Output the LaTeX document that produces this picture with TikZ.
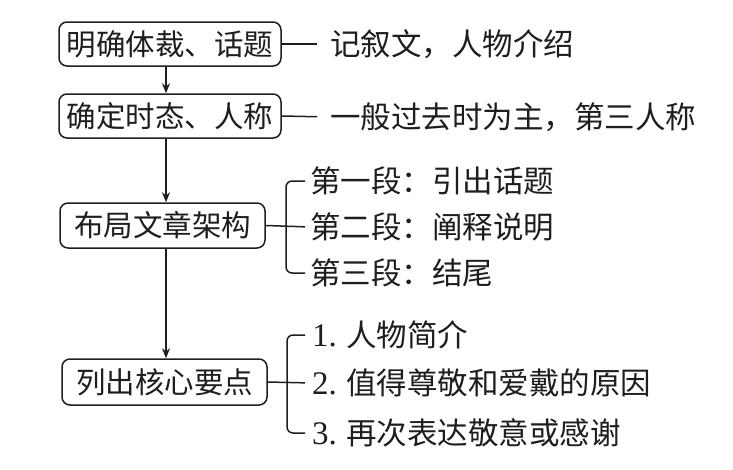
\documentclass[tikz,border=0pt]{standalone}
\usepackage{fontspec}
\setmainfont{Liberation Serif}
\newfontfamily\cjk{Noto Sans CJK SC}
\usetikzlibrary{arrows.meta}
\definecolor{ink}{HTML}{1E1E1E}
\begin{document}
\begin{tikzpicture}[x=1pt,y=-1pt,
  every node/.style={text=ink},
  box/.style={draw=ink,rounded corners=8pt,line width=1.5pt,inner sep=0pt,font=\cjk\fontsize{29.5}{30}\selectfont},
  lbl/.style={anchor=west,inner sep=0pt,font=\cjk\fontsize{30.5}{31}\selectfont},
  ln/.style={draw=ink,line width=1.5pt},
  arr/.style={draw=ink,line width=1.5pt,-{Stealth[length=10pt,width=8pt]}}]
\useasboundingbox (0,0) rectangle (733,469);
% boxes
\node[box,minimum width=222pt,minimum height=44pt] (b1) at (170,44) {明确体裁、话题};
\node[box,minimum width=222pt,minimum height=44pt] (b2) at (170,116) {确定时态、人称};
\node[box,minimum width=205pt,minimum height=45pt] (b3) at (162.5,225.5) {布局文章架构};
\node[box,minimum width=205pt,minimum height=46pt] (b4) at (164.5,382) {列出核心要点};
% labels
\node[lbl] (t1) at (330,44) {记叙文，人物介绍};
\node[lbl] (t2) at (330,117) {一般过去时为主，第三人称};
\node[lbl] (t31) at (310,181) {第一段：引出话题};
\node[lbl] (t32) at (310,227) {第二段：阐释说明};
\node[lbl] (t33) at (310,273) {第三段：结尾};
\node[lbl] (t41) at (312,335) {{\rmfamily\fontsize{33}{33}\selectfont 1.} 人物简介};
\node[lbl] (t42) at (312,383) {{\rmfamily\fontsize{33}{33}\selectfont 2.} 值得尊敬和爱戴的原因};
\node[lbl] (t43) at (312,433) {{\rmfamily\fontsize{33}{33}\selectfont 3.} 再次表达敬意或感谢};
% helper coordinates
\coordinate (ax) at (166,0);
\coordinate (k3) at (286,0);
\coordinate (k4) at (287,0);
% arrows
\draw[arr] (ax |- b1.south) -- (ax |- b2.north);
\draw[arr] (ax |- b2.south) -- (ax |- b3.north);
\draw[arr] (ax |- b3.south) -- (ax |- b4.north);
% side lines
\draw[ln,shorten >=13pt] (b1.east) -- (t1.west);
\draw[ln,shorten >=13pt] (b2.east) -- (t2.west);
% brackets
\draw[ln,rounded corners=6pt,shorten <=5pt,shorten >=5pt] (t31.west) -| (k3 |- b3.east) |- (t33.west);
\draw[ln,shorten >=5pt] (b3.east) -- (t32.west);
\draw[ln,rounded corners=6pt,shorten <=7pt,shorten >=7pt] (t41.west) -| (k4 |- b4.east) |- (t43.west);
\draw[ln,shorten >=7pt] (b4.east) -- (t42.west);
\end{tikzpicture}
\end{document}
